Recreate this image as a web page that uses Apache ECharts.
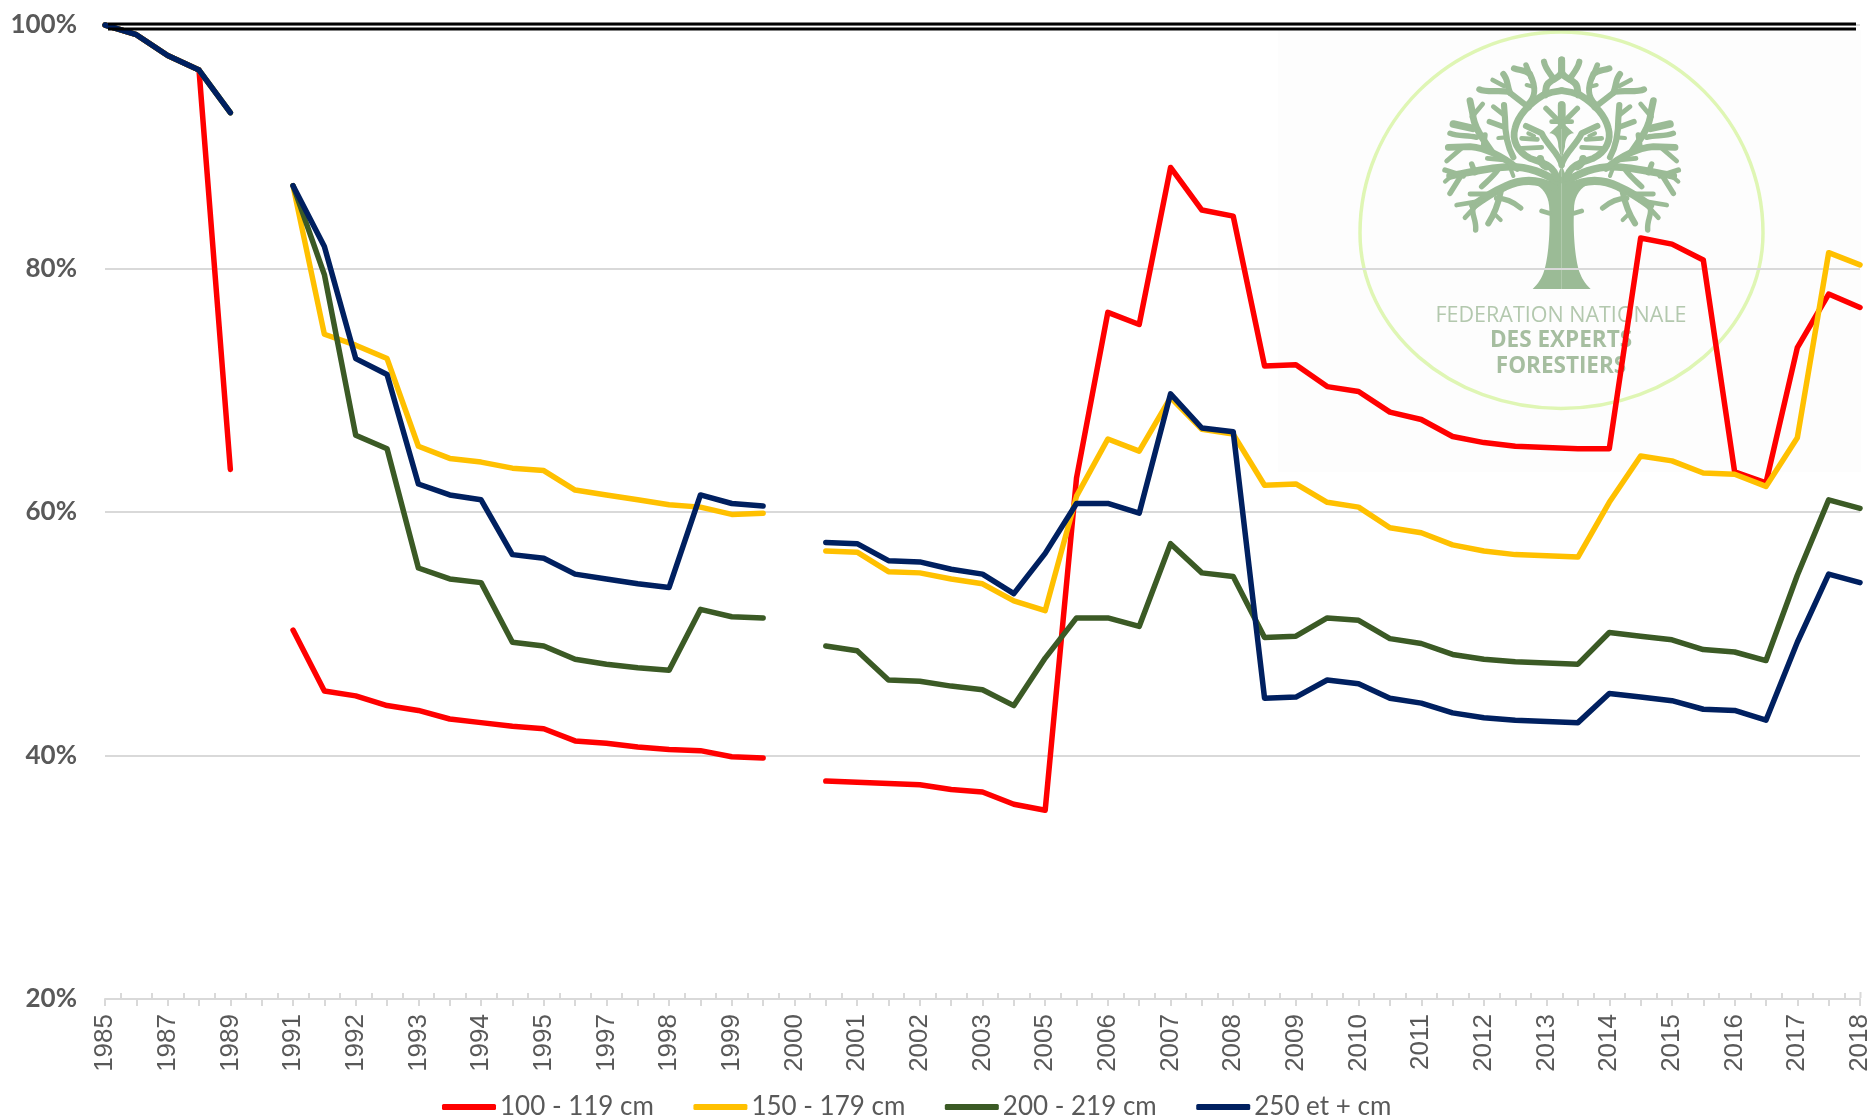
<!DOCTYPE html>
<html>
<head>
<meta charset="utf-8">
<style>html,body{margin:0;padding:0;background:#fff}#c{width:1873px;height:1119px}</style>
<script src="https://cdn.jsdelivr.net/npm/echarts@6/dist/echarts.min.js"></script>
</head>
<body>
<div id="c"></div>
<script>
var categories = ['1985','','1987','','1989','','1991','','1992','','1993','','1994','','1995','','1997','','1998','','1999','','2000','','2001','','2002','','2003','','2005','','2006','','2007','','2008','','2009','','2010','','2011','','2012','','2013','','2014','','2015','','2016','','2017','','2018'];
var s100 = [100,99.2,97.5,96.3,63.5,null,50.3,45.3,44.9,44.1,43.7,43,42.7,42.4,42.2,41.2,41,40.7,40.5,40.4,39.9,39.8,null,37.9,37.8,37.7,37.6,37.2,37,36,35.5,62.8,76.4,75.4,88.3,84.8,84.3,72,72.1,70.3,69.9,68.2,67.6,66.2,65.7,65.4,65.3,65.2,65.2,82.5,82,80.7,63.3,62.4,73.5,77.9,76.8];
var s150 = [100,99.2,97.5,96.3,92.8,null,86.8,74.6,73.7,72.6,65.4,64.4,64.1,63.6,63.4,61.8,61.4,61,60.6,60.4,59.8,59.9,null,56.8,56.7,55.1,55,54.5,54.1,52.7,51.9,61.3,66,65,69.4,66.8,66.4,62.2,62.3,60.8,60.4,58.7,58.3,57.3,56.8,56.5,56.4,56.3,60.8,64.6,64.2,63.2,63.1,62.1,66.1,81.3,80.3];
var s200 = [100,99.2,97.5,96.3,92.8,null,86.8,79.5,66.3,65.2,55.4,54.5,54.2,49.3,49,47.9,47.5,47.2,47,52,51.4,51.3,null,49,48.6,46.2,46.1,45.7,45.4,44.1,48,51.3,51.3,50.6,57.4,55,54.7,49.7,49.8,51.3,51.1,49.6,49.2,48.3,47.9,47.7,47.6,47.5,50.1,49.8,49.5,48.7,48.5,47.8,54.8,61,60.3];
var s250 = [100,99.2,97.5,96.3,92.8,null,86.8,81.8,72.6,71.3,62.3,61.4,61,56.5,56.2,54.9,54.5,54.1,53.8,61.4,60.7,60.5,null,57.5,57.4,56,55.9,55.3,54.9,53.3,56.6,60.7,60.7,59.9,69.7,66.9,66.6,44.7,44.8,46.2,45.9,44.7,44.3,43.5,43.1,42.9,42.8,42.7,45.1,44.8,44.5,43.8,43.7,42.9,49.3,54.9,54.2];
var seriesNames = ['100 - 119 cm','150 - 179 cm','200 - 219 cm','250 et + cm'];
var seriesColors = ['#ff0000','#ffc000','#3b5a25','#002060'];
var seriesValues = [s100,s150,s200,s250];

var TREE = '#9bbb96';
var LIMB_SCALE = 2.05;
// left half of the logo tree, [path, stroke width], in a 3x drawing space; mirrored for the right half
var limbs = [
 ['M372 412 C 320 385 270 388 225 410 C 190 425 160 445 130 467',12],
 ['M190 432 L120 432',7],['M160 452 L80 465',7],['M140 465 L105 503',7],['M130 472 C 122 490 140 510 137 540',8],
 ['M212 425 C 205 460 195 490 175 520',9],['M200 445 C 230 445 255 460 272 474',8],['M192 490 L212 510',6],
 ['M378 392 C 340 370 300 350 240 350 C 190 350 130 365 60 378',11],
 ['M135 368 L125 342',8],['M100 378 L45 360',8],['M90 382 L60 430',8],['M60 382 L45 395',6],
 ['M205 358 C 190 380 170 395 155 410',8],['M240 352 L250 378',6],
 ['M380 385 C 372 345 340 340 300 325 C 262 305 245 270 255 235 C 265 195 300 160 340 135 C 365 125 395 122 395 122',10],
 ['M296 172 L235 125 C 210 120 170 128 148 118',9],['M240 128 C 230 105 235 90 220 72',9],['M222 108 L188 90',7],
 ['M292 165 C 320 140 318 110 300 72 C 285 60 270 62 252 55',9],['M304 85 L288 45',8],['M310 110 L290 105',6],
 ['M345 135 C 350 110 345 105 365 92 C 378 82 395 80 395 62 L395 30',10],['M372 88 C 360 70 345 55 342 35',9],
 ['M262 355 C 225 325 175 295 120 290 L55 292',10],
 ['M185 305 C 160 270 130 230 128 190 L120 152',10],['M128 235 L70 222',11],['M126 200 L158 162',7],['M140 262 C 110 255 85 260 60 250',8],
 ['M100 290 L50 333',7],['M172 325 L230 330',7],['M160 290 L165 255',8],
 ['M250 322 C 232 290 225 250 225 205 L222 165',9],['M225 232 L178 215',8],['M222 195 L190 170',7],['M228 262 L205 264',6],
 ['M395 345 C 388 310 350 285 335 250 L288 228',9],['M322 268 L275 265',7],['M335 292 L275 295',7],['M312 258 L295 250',6],
 ['M348 350 C 340 345 332 340 331 326',11],['M358 490 L335 483',7],
 ['M395 225 L395 165',11],['M378 205 L348 175',8],['M385 215 L425 215',7]
];
var trunkPath = 'M308 717 L395 717 L395 380 L320 405 C 345 420 358 445 358 480 C 362 560 352 640 340 670 C 330 695 320 705 308 717 Z';
var crownPath = 'M395 345 L375 395 L395 400 Z M358 250 L395 215 L395 330 L385 290 C 385 270 378 250 358 250 Z';
var ringPath = 'M1561 32 C 1672 32 1763 122 1763 233 C 1763 330 1672 408.5 1561 408.5 C 1450 408.5 1360 330 1360 233 C 1360 122 1450 32 1561 32 Z';

// small absolute M/L/C/Z path shape for the logo
echarts.graphic.registerShape('logoPath', echarts.graphic.extendShape({
  type:'logoPath',
  shape:{d:''},
  buildPath:function(ctx,shape){
    var t = shape.d.replace(/([MLCZ])/g,' $1 ').trim().split(/\s+/), i=0;
    var cmd;
    while(i<t.length){
      if(/[MLCZ]/.test(t[i])){ cmd=t[i++]; }
      if(cmd==='M'){ ctx.moveTo(+t[i],+t[i+1]); i+=2; }
      else if(cmd==='L'){ ctx.lineTo(+t[i],+t[i+1]); i+=2; }
      else if(cmd==='C'){ ctx.bezierCurveTo(+t[i],+t[i+1],+t[i+2],+t[i+3],+t[i+4],+t[i+5]); i+=6; }
      else if(cmd==='Z'){ ctx.closePath(); }
    }
  }
}));

function half(mirror){
  var kids = [{type:'logoPath',shape:{d:trunkPath},style:{fill:TREE}},
              {type:'logoPath',shape:{d:crownPath},style:{fill:TREE}}];
  limbs.forEach(function(l){
    kids.push({type:'logoPath',shape:{d:l[0]},style:{fill:'none',stroke:TREE,lineWidth:l[1]*LIMB_SCALE,lineCap:'round',lineJoin:'round'}});
  });
  kids.forEach(function(k){ k.z=-1; });
  var g = {type:'group',children:kids};
  if(mirror){ g.x=790; g.scaleX=-1; }
  return g;
}
function logoText(t,y,size,weight,color){
  return {type:'text',x:1561,y:y,z:-1,style:{text:t,fontFamily:'"Open Sans"',fontSize:size,fontWeight:weight,fill:color,align:'center',verticalAlign:'middle'}};
}
function rule(x1,y1,x2,y2,c,w,z){
  return {type:'line',z:z,shape:{x1:x1,y1:y1,x2:x2,y2:y2},style:{stroke:c,lineWidth:w}};
}

var chart = echarts.init(document.getElementById('c'),null,{renderer:'canvas'});
chart.setOption({
  animation:false,
  backgroundColor:'#fff',
  grid:{left:105,right:12,top:25,bottom:120,containLabel:false},
  legend:{
    left:442,top:1094,padding:0,itemWidth:54,itemHeight:6,itemGap:39.5,icon:'roundRect',
    data:seriesNames,
    textStyle:{fontFamily:'Lato',fontSize:26,color:'#595959',padding:[0,0,0,-1]}
  },
  xAxis:[{
    type:'category',boundaryGap:false,data:categories,
    axisLine:{lineStyle:{color:'#d9d9d9',width:2}},
    axisTick:{show:true,interval:0,length:7,lineStyle:{color:'#d9d9d9',width:2}},
    axisLabel:{interval:1,rotate:90,margin:15,fontFamily:'"Liberation Sans"',fontSize:26,color:'#595959'},
    splitLine:{show:false}
  },{
    type:'category',boundaryGap:true,position:'bottom',data:categories.slice(1),
    axisLine:{show:false},
    axisTick:{show:true,alignWithLabel:true,interval:0,inside:true,length:6,lineStyle:{color:'#d9d9d9',width:2}},
    axisLabel:{show:false},splitLine:{show:false}
  }],
  yAxis:{
    type:'value',min:20,max:100,interval:20,
    axisLine:{show:false},axisTick:{show:false},
    axisLabel:{formatter:'{value}%',margin:28,padding:[2,0,0,0],fontFamily:'Lato',fontWeight:'bold',fontSize:26,color:'#595959'},
    splitLine:{lineStyle:{color:'#d9d9d9',width:2}}
  },
  series:seriesNames.map(function(n,i){
    return {name:n,type:'line',data:seriesValues[i],showSymbol:false,symbol:'none',connectNulls:false,clip:false,z:3+i,
      itemStyle:{color:seriesColors[i]},
      lineStyle:{color:seriesColors[i],width:5.5,cap:'round',join:'round'}};
  }),
  graphic:[
    {type:'rect',z:-2,shape:{x:1278,y:30,width:583,height:442},style:{fill:'#fdfdfd'}},
    {type:'logoPath',z:-1,shape:{d:ringPath},style:{fill:'none',stroke:'#dff6b4',lineWidth:3.5}},
    {type:'group',x:1430,y:50,scaleX:1/3,scaleY:1/3,children:[half(false),half(true)]},
    logoText('FEDERATION NATIONALE',316,21.5,'normal','#b3c8ae'),
    logoText('DES EXPERTS',341,22.5,'bold','#a6bea0'),
    logoText('FORESTIERS',367,22.5,'bold','#a6bea0'),
    rule(108,24,1856,24,'#000',3,10),
    rule(108,29,1856,29,'#000',3,10),
    rule(1860.5,992,1860.5,998,'#d9d9d9',2,1)
  ]
});
</script>
</body>
</html>
